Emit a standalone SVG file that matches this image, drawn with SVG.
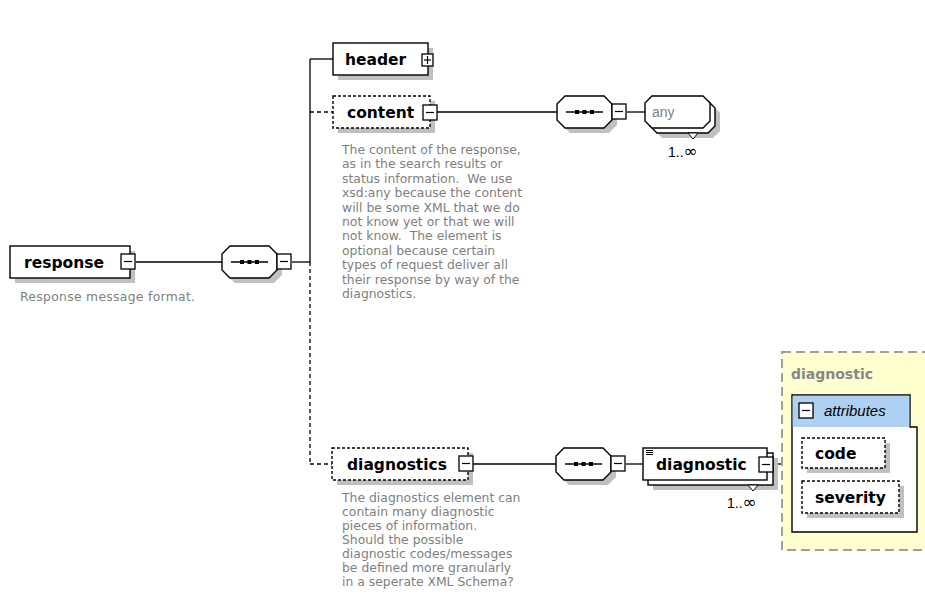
<svg xmlns="http://www.w3.org/2000/svg" width="925" height="613" viewBox="0 0 925 613">
  <defs>
    <style>
      .box { fill: #ffffff; stroke: #000000; stroke-width: 1.4; }
      .opt { stroke-dasharray: 3 2; }
      .shadow { fill: #c0c0c0; stroke: none; }
      .btn { fill: #ffffff; stroke: #000000; stroke-width: 1.3; }
      .sign { stroke: #000000; stroke-width: 1.2; fill: none; }
      .wire { stroke: #000000; stroke-width: 1.3; fill: none; }
      .wire-opt { stroke: #000000; stroke-width: 1.3; fill: none; stroke-dasharray: 4 3; }
      .name { font-family: "DejaVu Sans", Verdana, sans-serif; font-weight: bold; font-size: 15.5px; fill: #000000; }
      .doc { font-family: "DejaVu Sans", Verdana, sans-serif; font-size: 12.4px; fill: #808080; white-space: pre; }
      .occurs { font-family: "Liberation Sans", Arial, sans-serif; font-size: 14px; fill: #000000; }
      .inf { font-family: "DejaVu Sans", sans-serif; font-size: 17px; }
    </style>
    <!-- sequence compositor: chamfered octagon 55x32 -->
    <path id="octa" d="M8,0 H47 L55,8 V24 L47,32 H8 L0,24 V8 Z"/>
    <g id="seq-mark">
      <line x1="9" y1="16" x2="46" y2="16" stroke="#000" stroke-width="1.3"/>
      <rect x="18" y="14" width="4" height="4" fill="#000"/>
      <rect x="25.5" y="14" width="4" height="4" fill="#000"/>
      <rect x="33" y="14" width="4" height="4" fill="#000"/>
    </g>
    <!-- collapse button -->
    <g id="minus">
      <rect class="btn" x="0" y="0" width="14" height="15"/>
      <line class="sign" x1="3" y1="7.5" x2="11" y2="7.5"/>
    </g>
    <g id="plus">
      <rect class="btn" x="0" y="0" width="11" height="12"/>
      <line class="sign" x1="2" y1="6" x2="9" y2="6"/>
      <line class="sign" x1="5.5" y1="2" x2="5.5" y2="10"/>
    </g>
    <path id="anyshape" d="M7,0 H58 L65,7 V25 L58,32 H7 L0,25 V7 Z"/>
  </defs>

  <rect width="925" height="613" fill="#ffffff"/>

  <!-- connectors -->
  <g id="connectors">
    <line class="wire" x1="136" y1="262" x2="222" y2="262"/>
    <line class="wire" x1="292" y1="262" x2="310" y2="262"/>
    <line class="wire" x1="310" y1="59" x2="310" y2="262"/>
    <line class="wire" x1="310" y1="59" x2="333" y2="59"/>
    <line class="wire-opt" x1="310" y1="112" x2="333" y2="112"/>
    <line class="wire-opt" x1="310" y1="262" x2="310" y2="464"/>
    <line class="wire-opt" x1="310" y1="464" x2="332" y2="464"/>
    <line class="wire" x1="437" y1="112" x2="557" y2="112"/>
    <line class="wire" x1="627" y1="112" x2="645" y2="112"/>
    <line class="wire" x1="473" y1="464" x2="556" y2="464"/>
    <line class="wire" x1="626" y1="464" x2="643" y2="464"/>
    <line class="wire" x1="773" y1="464" x2="792" y2="464"/>
  </g>

  <!-- response element -->
  <g id="response">
    <rect class="shadow" x="15" y="251" width="120" height="32"/>
    <rect class="box" x="10" y="246" width="120" height="32"/>
    <text class="name" x="24" y="268">response</text>
    <use href="#minus" x="121" y="254"/>
    <text class="doc" x="20" y="301" textLength="175" lengthAdjust="spacing">Response message format.</text>
  </g>

  <!-- sequence under response -->
  <g id="seq-main">
    <use href="#octa" x="227" y="251" class="shadow"/>
    <use href="#octa" x="222" y="246" class="box"/>
    <use href="#seq-mark" x="222" y="246"/>
    <use href="#minus" x="277" y="254"/>
  </g>

  <!-- header element -->
  <g id="header">
    <rect class="shadow" x="338" y="48" width="95" height="32"/>
    <rect class="box" x="333" y="43" width="95" height="32"/>
    <text class="name" x="345" y="65">header</text>
    <use href="#plus" x="422" y="54"/>
  </g>

  <!-- content element (optional) -->
  <g id="content">
    <rect class="shadow" x="338" y="101" width="97" height="32"/>
    <rect class="box opt" x="333" y="96" width="97" height="32"/>
    <text class="name" x="347" y="118">content</text>
    <use href="#minus" x="423" y="105"/>
    <text class="doc">
      <tspan x="342" y="154">The content of the response,</tspan>
      <tspan x="342" y="168.4">as in the search results or</tspan>
      <tspan x="342" y="182.8">status information.  We use</tspan>
      <tspan x="342" y="197.2">xsd:any because the content</tspan>
      <tspan x="342" y="211.6">will be some XML that we do</tspan>
      <tspan x="342" y="226">not know yet or that we will</tspan>
      <tspan x="342" y="240.4">not know.  The element is</tspan>
      <tspan x="342" y="254.8">optional because certain</tspan>
      <tspan x="342" y="269.2">types of request deliver all</tspan>
      <tspan x="342" y="283.6">their response by way of the</tspan>
      <tspan x="342" y="298">diagnostics.</tspan>
    </text>
  </g>

  <!-- sequence under content -->
  <g id="seq-content">
    <use href="#octa" x="562" y="101" class="shadow"/>
    <use href="#octa" x="557" y="96" class="box"/>
    <use href="#seq-mark" x="557" y="96"/>
    <use href="#minus" x="612" y="104"/>
  </g>

  <!-- any wildcard 1..unbounded -->
  <g id="any">
    <use href="#anyshape" x="655" y="106" class="shadow"/>
    <use href="#anyshape" x="650" y="101" class="box"/>
    <use href="#anyshape" x="645" y="96" class="box"/>
    <path d="M688,133 L698,133 L693,139 Z" fill="#ffffff" stroke="#000" stroke-width="1"/>
    <text x="652" y="117" font-family="Liberation Sans, Arial, sans-serif" font-size="14" fill="#808080">any</text>
    <text class="occurs" x="668" y="157">1..<tspan class="inf">∞</tspan></text>
  </g>

  <!-- diagnostics element (optional) -->
  <g id="diagnostics">
    <rect class="shadow" x="337" y="453" width="136" height="32"/>
    <rect class="box opt" x="332" y="448" width="136" height="32"/>
    <text class="name" x="347" y="470">diagnostics</text>
    <use href="#minus" x="459" y="456"/>
    <text class="doc">
      <tspan x="342" y="502">The diagnostics element can</tspan>
      <tspan x="342" y="516">contain many diagnostic</tspan>
      <tspan x="342" y="530">pieces of information.</tspan>
      <tspan x="342" y="544">Should the possible</tspan>
      <tspan x="342" y="558">diagnostic codes/messages</tspan>
      <tspan x="342" y="572">be defined more granularly</tspan>
      <tspan x="342" y="586">in a seperate XML Schema?</tspan>
    </text>
  </g>

  <!-- sequence under diagnostics -->
  <g id="seq-diagnostics">
    <use href="#octa" x="561" y="453" class="shadow"/>
    <use href="#octa" x="556" y="448" class="box"/>
    <use href="#seq-mark" x="556" y="448"/>
    <use href="#minus" x="611" y="456"/>
  </g>

  <!-- diagnostic element 1..unbounded -->
  <g id="diagnostic">
    <rect class="shadow" x="653" y="458" width="125" height="32"/>
    <rect class="box" x="648" y="453" width="125" height="32"/>
    <rect class="box" x="643" y="448" width="124" height="32"/>
    <line x1="646" y1="450.5" x2="653" y2="450.5" stroke="#000" stroke-width="1"/>
    <line x1="646" y1="452.5" x2="653" y2="452.5" stroke="#000" stroke-width="1"/>
    <line x1="646" y1="454.5" x2="653" y2="454.5" stroke="#000" stroke-width="1"/>
    <text class="name" x="656" y="470">diagnostic</text>
    <use href="#minus" x="759" y="457"/>
    <path d="M748,485 L758,485 L753,491 Z" fill="#ffffff" stroke="#000" stroke-width="1"/>
    <text class="occurs" x="727" y="508">1..<tspan class="inf">∞</tspan></text>
  </g>

  <!-- complex type panel for diagnostic -->
  <g id="diagnostic-type">
    <rect x="782" y="352" width="160" height="198" fill="#ffffd0" stroke="#a0a0a0" stroke-width="2" stroke-dasharray="9 5"/>
    <text x="791" y="379" font-family="DejaVu Sans, Verdana, sans-serif" font-weight="bold" font-size="14" fill="#888888">diagnostic</text>
  </g>

  <g id="attributes">
    <path d="M792,395 H910 V427 H917 V532 H792 Z" fill="#ffffff" stroke="#000" stroke-width="1.4"/>
    <path d="M792.7,395.7 H909.3 V427 H792.7 Z" fill="#aed0f2"/>
    <use href="#minus" x="799" y="403"/>
    <text x="824" y="416" font-family="Liberation Sans, Arial, sans-serif" font-style="italic" font-size="15" fill="#000">attributes</text>
  </g>

  <g id="code">
    <rect class="shadow" x="807" y="443" width="83" height="30"/>
    <rect class="box opt" x="802" y="438" width="83" height="30"/>
    <text class="name" x="815" y="459">code</text>
  </g>

  <g id="severity">
    <rect class="shadow" x="807" y="486" width="97" height="32"/>
    <rect class="box opt" x="802" y="481" width="97" height="32"/>
    <text class="name" x="815" y="503">severity</text>
  </g>
</svg>
